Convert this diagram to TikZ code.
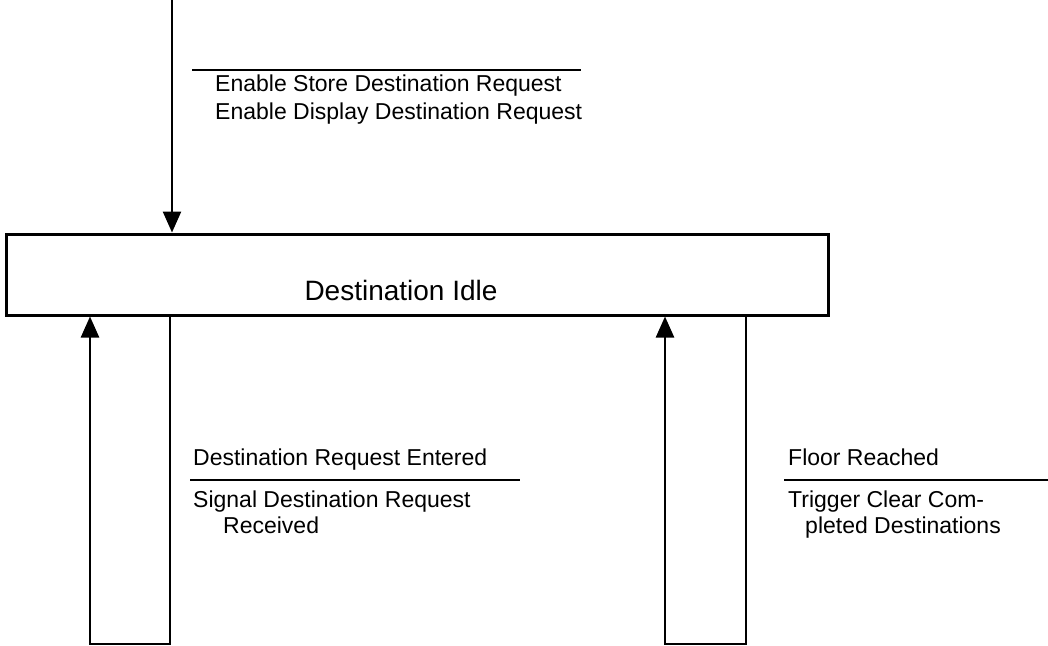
\documentclass[tikz,border=0pt]{standalone}
\usepackage{fontspec}
\setmainfont{Liberation Sans}
\usetikzlibrary{arrows.meta}
\begin{document}
\begin{tikzpicture}[x=1pt,y=-1pt,
  statebox/.style={draw=black,line width=3pt,minimum width=822pt,minimum height=81pt,inner sep=0pt},
  conn/.style={draw=black,line width=2.5pt},
  arr/.style={conn,-{Triangle[length=21pt,width=18pt]}},
  barline/.style={draw=black,line width=2.3pt},
  lbl/.style={anchor=base west,inner sep=0pt,font=\fontsize{23}{27}\selectfont},
  big/.style={anchor=center,inner sep=0pt,font=\fontsize{28}{33}\selectfont}]
\useasboundingbox (0,0) rectangle (1048,645);
\fill[white] (0,0) rectangle (1048,645);
% state
\node[statebox] (idle) at (417,274.5) {};
\node[big] (idletext) at (401,290) {Destination Idle};
% entry arrow
\coordinate (topstart) at (172,0);
\draw[arr] (topstart) -- (idle.north -| topstart);
\coordinate (t1) at (192,70);
\coordinate (t2) at (581,70);
\draw[barline] (t1) -- (t2);
\node[lbl] (ta1) at (215,91) {Enable Store Destination Request};
\node[lbl] (ta2) at (215,119) {Enable Display Destination Request};
% left self loop
\coordinate (lb) at (170,644);
\coordinate (la) at (90,644);
\draw[arr] (idle.south -| lb) -- (lb) -- (la) -- (idle.south -| la);
\node[lbl] (le) at (193,465) {Destination Request Entered};
\coordinate (l1) at (190,480);
\coordinate (l2) at (520,480);
\draw[barline] (l1) -- (l2);
\node[lbl] (la1) at (193,507) {Signal Destination Request};
\node[lbl] (la2) at (223,533) {Received};
% right self loop
\coordinate (rb) at (746,644);
\coordinate (ra) at (665,644);
\draw[arr] (idle.south -| rb) -- (rb) -- (ra) -- (idle.south -| ra);
\node[lbl] (re) at (788,465) {Floor Reached};
\coordinate (r1) at (784,480);
\coordinate (r2) at (1048,480);
\draw[barline] (r1) -- (r2);
\node[lbl] (ra1) at (788,507) {Trigger Clear Com-};
\node[lbl] (ra2) at (805,533) {pleted Destinations};
\end{tikzpicture}
\end{document}
